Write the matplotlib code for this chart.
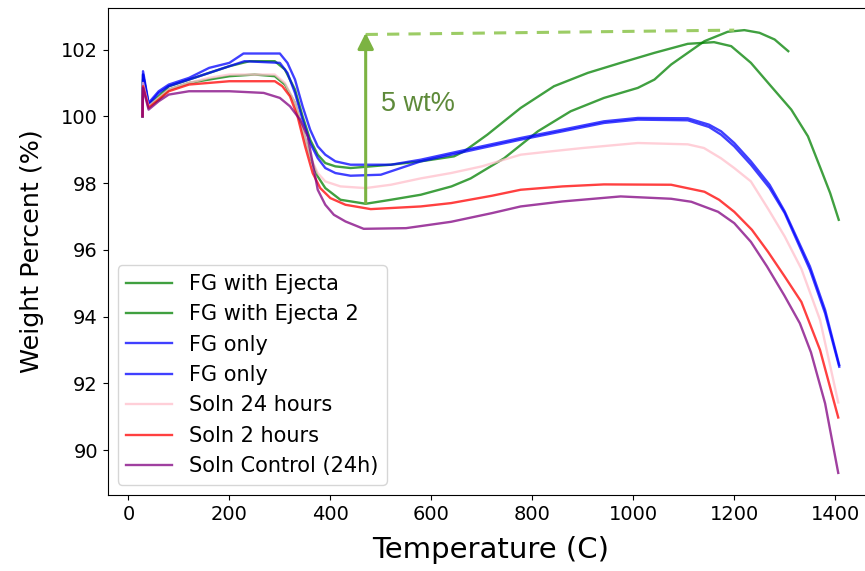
import matplotlib
matplotlib.use("Agg")
import matplotlib.pyplot as plt

# TGA traces (temperature in C, weight in %)
t_ej1 = [28, 29, 40, 60, 80, 120, 160, 200, 240, 290, 310, 330, 345, 360, 375, 390, 410, 440, 480, 520,
         579, 645, 665, 711, 777, 843, 910, 975, 1042, 1108, 1160, 1194, 1233, 1270, 1313, 1346, 1372,
         1390, 1407]
w_ej1 = [100.0, 101.25, 100.35, 100.6, 100.9, 101.1, 101.3, 101.5, 101.65, 101.65, 101.4, 100.8, 100.0, 99.3,
         98.85, 98.6, 98.5, 98.45, 98.5, 98.55, 98.65, 98.8, 98.95, 99.45, 100.25, 100.9, 101.3, 101.6, 101.9,
         102.17, 102.22, 102.1, 101.6, 100.95, 100.2, 99.4, 98.4, 97.7, 96.9]

t_ej2 = [28, 29, 40, 60, 80, 120, 160, 200, 250, 290, 310, 330, 345, 360, 375, 390, 420, 470, 520, 579,
         640, 678, 744, 811, 876, 942, 1009, 1042, 1075, 1108, 1141, 1187, 1220, 1250, 1280, 1307]
w_ej2 = [100.0, 101.1, 100.3, 100.5, 100.8, 101.0, 101.1, 101.2, 101.25, 101.2, 100.95, 100.4, 99.6, 98.8,
         98.2, 97.85, 97.5, 97.38, 97.5, 97.65, 97.9, 98.14, 98.74, 99.55, 100.15, 100.55, 100.85, 101.1,
         101.55, 101.9, 102.25, 102.53, 102.58, 102.5, 102.3, 101.95]

t_fg1 = [28, 29, 40, 60, 80, 120, 160, 200, 228, 300, 315, 330, 345, 360, 375, 390, 410, 440, 520, 579,
         700, 777, 860, 942, 1009, 1108, 1150, 1174, 1200, 1233, 1270, 1300, 1350, 1380, 1408]
w_fg1 = [100.0, 101.35, 100.4, 100.75, 100.95, 101.15, 101.45, 101.6, 101.88, 101.88, 101.6, 101.1, 100.3,
         99.6, 99.1, 98.85, 98.65, 98.55, 98.55, 98.7, 99.1, 99.35, 99.6, 99.85, 99.95, 99.94, 99.75, 99.55,
         99.2, 98.65, 97.95, 97.15, 95.5, 94.2, 92.55]

t_fg2 = [28, 29, 40, 60, 80, 120, 160, 200, 230, 300, 315, 330, 345, 360, 375, 390, 410, 440, 500, 579,
         700, 777, 860, 942, 1009, 1108, 1150, 1174, 1200, 1233, 1270, 1300, 1350, 1380, 1408]
w_fg2 = [100.0, 101.25, 100.35, 100.7, 100.9, 101.1, 101.3, 101.5, 101.65, 101.6, 101.3, 100.7, 99.9, 99.2,
         98.75, 98.45, 98.3, 98.22, 98.25, 98.65, 99.05, 99.3, 99.55, 99.8, 99.9, 99.88, 99.68, 99.45,
         99.1, 98.55, 97.85, 97.1, 95.4, 94.1, 92.5]

t_s24 = [28, 29, 40, 60, 80, 120, 160, 200, 290, 310, 330, 345, 360, 375, 390, 420, 470, 520, 579, 639,
         700, 777, 837, 900, 1009, 1108, 1140, 1174, 1200, 1233, 1267, 1300, 1333, 1370, 1406]
w_s24 = [100.0, 101.0, 100.3, 100.55, 100.8, 101.0, 101.15, 101.25, 101.25, 101.0, 100.4, 99.6, 98.8, 98.3,
         98.05, 97.9, 97.85, 97.95, 98.14, 98.3, 98.5, 98.85, 98.95, 99.05, 99.2, 99.16, 99.05, 98.74, 98.45,
         98.05, 97.23, 96.4, 95.43, 93.9, 91.43]

t_s2 = [28, 29, 40, 60, 80, 120, 160, 200, 290, 305, 320, 335, 350, 365, 380, 400, 430, 480, 579, 639,
        720, 777, 860, 942, 1075, 1141, 1170, 1200, 1235, 1267, 1300, 1333, 1370, 1406]
w_s2 = [100.0, 100.9, 100.25, 100.5, 100.75, 100.95, 101.0, 101.05, 101.05, 100.9, 100.6, 100.0, 99.1, 98.3,
        97.85, 97.55, 97.35, 97.22, 97.3, 97.4, 97.62, 97.8, 97.9, 97.96, 97.95, 97.74, 97.5, 97.14, 96.6,
        95.94, 95.2, 94.44, 93.0, 90.98]

t_ctl = [28, 29, 40, 60, 80, 120, 150, 200, 268, 300, 320, 340, 355, 365, 375, 390, 407, 430, 466, 550,
         639, 720, 777, 860, 975, 1075, 1115, 1168, 1200, 1233, 1265, 1299, 1330, 1352, 1380, 1406]
w_ctl = [100.0, 100.85, 100.2, 100.45, 100.65, 100.75, 100.75, 100.75, 100.7, 100.55, 100.3, 99.9, 99.4,
         98.6, 97.8, 97.35, 97.05, 96.85, 96.63, 96.65, 96.84, 97.1, 97.3, 97.45, 97.6, 97.53, 97.44,
         97.14, 96.8, 96.24, 95.5, 94.64, 93.8, 92.93, 91.4, 89.32]

labels = ["FG with Ejecta", "FG with Ejecta 2", "FG only", "FG only",
          "Soln 24 hours", "Soln 2 hours", "Soln Control (24h)"]
colors = ["green", "green", "blue", "blue", "pink", "red", "purple"]
series = [(t_ej1, w_ej1), (t_ej2, w_ej2), (t_fg1, w_fg1), (t_fg2, w_fg2),
          (t_s24, w_s24), (t_s2, w_s2), (t_ctl, w_ctl)]

fig = plt.figure(figsize=(8.65, 5.71), dpi=100)
ax = fig.add_axes([0.1245, 0.133, 0.886, 0.853])

for (t, w), c, lab in zip(series, colors, labels):
    ax.plot(t, w, color=c, alpha=0.75, lw=1.7, label=lab)

# 5 wt% gain marker
ax.plot([470, 1200], [102.45, 102.58], ls=(0, (4, 3)), color="#9ccc65", lw=2.2)
ax.annotate("", xy=(470, 102.5), xytext=(470, 97.4),
            arrowprops=dict(arrowstyle="-|>", color="#7cb342", lw=2.2, mutation_scale=24,
                            shrinkA=0, shrinkB=0))
ax.text(500, 100.36, "5 wt%", fontsize=19.5, color="#5e8a3a", va="center",
        family="Liberation Sans")

ax.set_xlabel("Temperature (C)", fontsize=21, labelpad=9)
ax.set_ylabel("Weight Percent (%)", fontsize=18.3, labelpad=12)
ax.tick_params(labelsize=14)
ax.set_yticks([90, 92, 94, 96, 98, 100, 102])
ax.legend(loc="lower left", fontsize=15, handlelength=2.2)

fig.savefig("out.png", dpi=100)
